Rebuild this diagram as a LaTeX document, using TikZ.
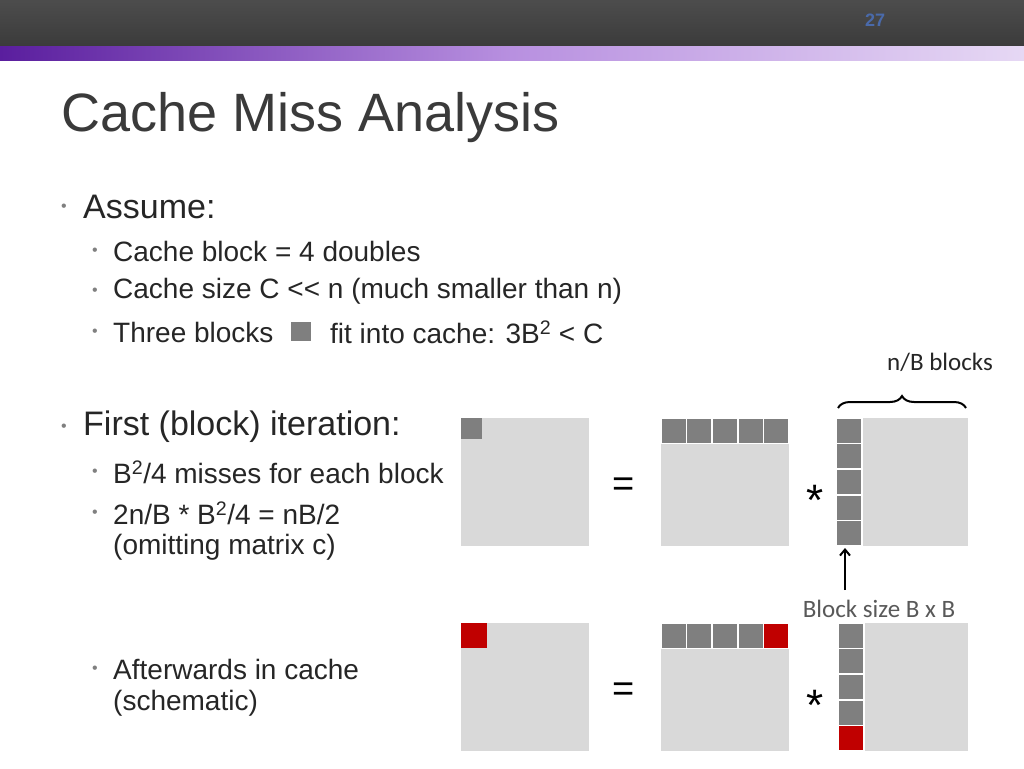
\documentclass[tikz,border=0pt]{standalone}
\usepackage{fontspec}
\setmainfont{Liberation Sans}
\newfontfamily\carlitofont{Carlito}
\usetikzlibrary{decorations.pathreplacing,arrows.meta}
\definecolor{mat}{HTML}{D9D9D9}
\definecolor{blk}{HTML}{7F7F7F}
\definecolor{redb}{HTML}{C00000}
\definecolor{txt}{HTML}{262626}
\definecolor{pl}{HTML}{5A1E9E}
\definecolor{pm}{HTML}{B890E0}
\definecolor{pr}{HTML}{E6D8F4}
\begin{document}
\begin{tikzpicture}[x=1pt,y=-1pt,
  mx/.style={fill=mat,draw=none},
  bk/.style={fill=blk,draw=white,line width=1.5pt},
  rb/.style={fill=redb,draw=white,line width=1.5pt},
  t1/.style={anchor=west,font=\fontsize{34}{38}\selectfont,text=txt,inner sep=0},
  t2/.style={anchor=west,font=\fontsize{28}{32}\selectfont,text=txt,inner sep=0},
  bul/.style={anchor=center,font=\fontsize{16}{16}\selectfont,text=gray,inner sep=0}]
\useasboundingbox (0,0) rectangle (1024,768);
\fill[white] (0,0) rectangle (1024,768);
\shade[top color=black!70,bottom color=black!77] (0,0) rectangle (1024,47);
\shade[left color=pl,right color=pm] (0,47) rectangle (512,60);
\shade[left color=pm,right color=pr] (512,47) rectangle (1024,60);
\node[font=\bfseries\fontsize{18}{18}\selectfont,text={rgb,255:red,74;green,106;blue,170}] (pg) at (875,20) {27};
\node[anchor=west,font=\fontsize{54}{58}\selectfont,text={rgb,255:red,58;green,58;blue,58},inner sep=0] (title) at (61,118) {Cache Miss Analysis};
% bullets
\node[bul] (b1) at (64,208) {•};
\node[t1] (l1) at (83,207) {Assume:};
\node[bul] (b2) at (95,252) {•};
\node[t2] (l2) at (113,251) {Cache block = 4 doubles};
\node[bul] (b3) at (95,292) {•};
\node[t2] (l3) at (113,291) {Cache size C {<}{<} n (much smaller than n)};
\node[bul] (b4) at (95,333) {•};
\node[t2] (l4) at (113,332) {Three blocks};
\fill[blk] (291,322) rectangle (311,341);
\node[t2] (l4b) at (330,332) {fit into cache: 3B\textsuperscript{2} < C};
\node[bul] (b5) at (64,428) {•};
\node[t1] (l5) at (83,427) {First (block) iteration:};
\node[bul] (b6) at (95,473) {•};
\node[t2] (l6) at (113,472) {B\textsuperscript{2}/4 misses for each block};
\node[bul] (b7) at (95,514) {•};
\node[t2] (l7) at (113,513) {2n/B * B\textsuperscript{2}/4 = nB/2};
\node[t2] (l7b) at (113,547) {(omitting matrix c)};
\node[bul] (b8) at (95,670) {•};
\node[t2] (l8) at (113,669) {Afterwards in cache};
\node[t2] (l8b) at (113,703) {(schematic)};
% top matrices
\fill[mx] (461,418) rectangle (589,546);
\fill[blk] (461,418) rectangle (482,439);
\fill[mx] (661,418) rectangle (789,546);
\foreach \i in {0,...,4} \draw[bk] (661+\i*25.6,418) rectangle ++(25.6,25.6);
\fill[mx] (836,418) rectangle (968,546);
\foreach \i in {0,...,4} \draw[bk] (836,418+\i*25.6) rectangle ++(26,25.6);
\node[font=\fontsize{38}{38}\selectfont] (eq1) at (624,487) {=};
\node[font=\fontsize{44}{44}\selectfont] (st1) at (815,500) {*};
% bottom matrices
\fill[mx] (461,623) rectangle (589,751);
\fill[redb] (461,623) rectangle (487,648);
\fill[mx] (661,623) rectangle (789,751);
\foreach \i in {0,...,3} \draw[bk] (661+\i*25.6,623) rectangle ++(25.6,25.6);
\draw[rb] (763.4,623) rectangle ++(25.6,25.6);
\fill[mx] (838,623) rectangle (968,751);
\foreach \i in {0,...,3} \draw[bk] (838,623+\i*25.6) rectangle ++(26,25.6);
\draw[rb] (838,725.4) rectangle ++(26,25.6);
\node[font=\fontsize{38}{38}\selectfont] (eq2) at (624,692) {=};
\node[font=\fontsize{44}{44}\selectfont] (st2) at (815,705) {*};
% annotations
\coordinate (bl) at (838,408);
\coordinate (br) at (966,408);
\draw[line width=2pt,decorate,decoration={brace,amplitude=12pt}] (bl) -- (br);
\node[font=\carlitofont\fontsize{25}{25}\selectfont,text=txt] (nb) at (940,362) {n/B blocks};
\node[font=\carlitofont\fontsize{25}{25}\selectfont,text=black!65] (bs) at (879,609) {Block size B x B};
\coordinate (arrs) at (845,590);
\coordinate (arre) at (845,548);
\draw[line width=2pt,-{Straight Barb[length=6pt,width=10pt]}] (arrs) -- (arre);
\end{tikzpicture}
\end{document}
